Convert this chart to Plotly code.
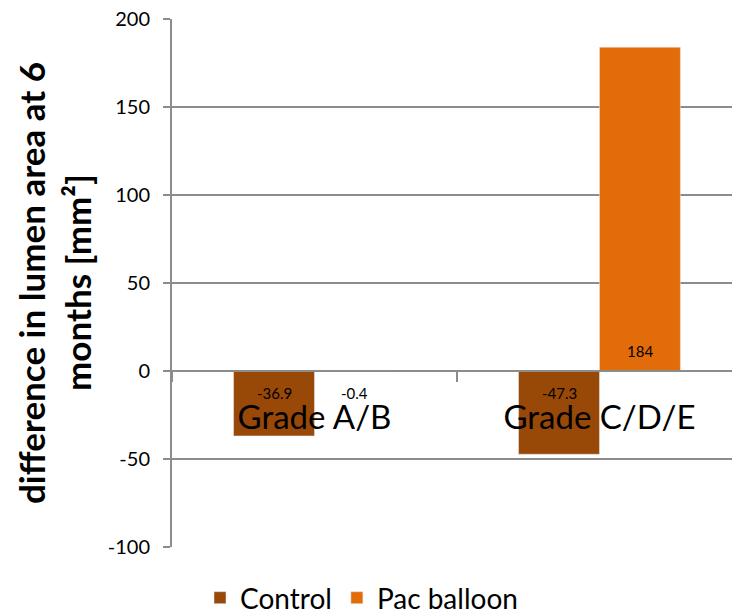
import plotly.graph_objects as go

# Chart data
categories = ["Grade A/B", "Grade C/D/E"]
control = [-36.9, -47.3]
pac_balloon = [-0.4, 184]
y_ticks = [-100, -50, 0, 50, 100, 150, 200]

COLOR_CONTROL = "#984807"
COLOR_PAC = "#E36C0A"
GRID = "#8C8C8C"
FONT = "Lato"

W, H = 732, 615
M_L, M_R, M_T, M_B = 172, 0, 19, 68
X_RANGE = [-0.5, 1.465]
BARGAP = 0.432

fig = go.Figure()
fig.add_bar(name="Control", x=categories, y=control, marker_color=COLOR_CONTROL)
fig.add_bar(name="Pac balloon", x=categories, y=pac_balloon, marker_color=COLOR_PAC)

# value labels sit just inside each bar's base
plot_w = W - M_L - M_R
px_per_cat = plot_w / (X_RANGE[1] - X_RANGE[0])
bar_px = px_per_cat * (1 - BARGAP) / 2
for series, side in ((control, -1), (pac_balloon, 1)):
    for cat, val in zip(categories, series):
        fig.add_annotation(
            x=cat, y=0, xref="x", yref="y", text=f"{val:g}", showarrow=False,
            xshift=side * bar_px / 2, yshift=(-22 if val < 0 else 20),
            font=dict(family=FONT, size=15, color="#000000"),
        )

# two-line y-axis title
for text, cx in (("difference in lumen area at 6", 31), ("months [mm²]", 77)):
    fig.add_annotation(
        xref="paper", yref="paper", x=0, y=0.5, xshift=cx - M_L, text=f"<b>{text}</b>",
        textangle=-90, showarrow=False, xanchor="center", yanchor="middle",
        font=dict(family=FONT, size=35, color="#000000"),
    )

fig.update_layout(
    width=W, height=H,
    margin=dict(l=M_L, r=M_R, t=M_T, b=M_B, pad=0, autoexpand=False),
    paper_bgcolor="white", plot_bgcolor="white",
    barmode="group", bargap=BARGAP, bargroupgap=0,
    font=dict(family=FONT, color="#000000"),
    showlegend=True,
    legend=dict(
        orientation="h", x=0.05, xanchor="left",
        yref="container", y=(H - 598) / H, yanchor="middle",
        font=dict(family=FONT, size=28, color="#000000"),
        itemwidth=30, tracegroupgap=0,
    ),
    xaxis=dict(
        type="category", range=X_RANGE, anchor="free", position=1 / 3,
        showline=True, linecolor=GRID, linewidth=2,
        ticks="outside", tickson="boundaries", ticklen=10, tickwidth=2, tickcolor=GRID,
        tickfont=dict(family=FONT, size=33, color="#000000"),
        showgrid=False, zeroline=False, ticklabelstandoff=17,
    ),
    yaxis=dict(
        range=[-100, 200], tickvals=y_ticks, ticktext=[str(v) for v in y_ticks],
        showline=True, linecolor=GRID, linewidth=2,
        ticks="outside", ticklen=7, tickwidth=2, tickcolor=GRID,
        showgrid=True, gridcolor=GRID, gridwidth=2,
        zeroline=False,
        tickfont=dict(family=FONT, size=20, color="#000000"),
        ticklabelstandoff=9,
    ),
)

fig.write_html("out.html")
